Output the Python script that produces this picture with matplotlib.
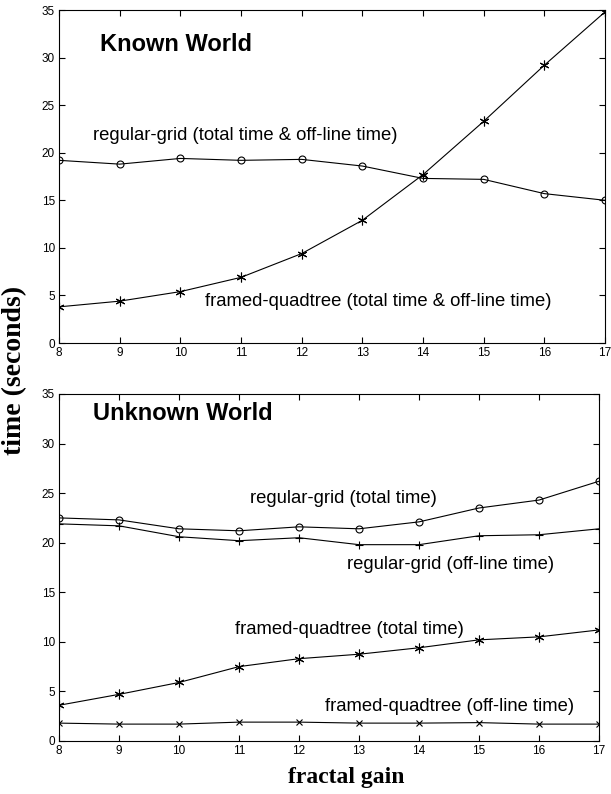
#!/usr/bin/env python3

import matplotlib
matplotlib.use('Agg')
import matplotlib.pyplot as plt


# Data. Fractal gain on x, time in seconds on y.
gain = [8, 9, 10, 11, 12, 13, 14, 15, 16, 17]

known_grid = [19.2, 18.8, 19.4, 19.2, 19.3, 18.6, 17.3, 17.2, 15.7, 15.0]
known_quad = [3.8, 4.4, 5.4, 6.9, 9.4, 12.9, 17.7, 23.3, 29.2, 34.8]

unknown_grid_total = [22.5, 22.3, 21.4, 21.2, 21.6, 21.4, 22.1, 23.5, 24.3, 26.2]
unknown_grid_offline = [21.9, 21.7, 20.6, 20.2, 20.5, 19.8, 19.8, 20.7, 20.8, 21.4]
unknown_quad_total = [3.6, 4.7, 5.9, 7.5, 8.3, 8.75, 9.4, 10.2, 10.5, 11.2]
unknown_quad_offline = [1.8, 1.7, 1.7, 1.9, 1.9, 1.8, 1.8, 1.85, 1.7, 1.7]

yticks = [0, 5, 10, 15, 20, 25, 30, 35]


plt.rcParams['font.family'] = ['Liberation Sans', 'DejaVu Sans']

fig = plt.figure(figsize=(6.11, 7.94), dpi=100)
ax1 = fig.add_axes((0.0966, 0.568, 0.8936, 0.4194))
ax2 = fig.add_axes((0.0966, 0.0668, 0.8838, 0.437))

line = dict(color='black', lw=0.8, markeredgewidth=0.8)
star = (6, 2, 0)  # asterisk made of strokes

# Known world.
ax1.plot(gain, known_grid, marker='o', mfc='none', ms=5, **line)
ax1.plot(gain, known_quad, marker=star, ms=7, **line)

# Unknown world.
ax2.plot(gain, unknown_grid_total, marker='o', mfc='none', ms=5, **line)
ax2.plot(gain, unknown_grid_offline, marker='+', ms=6, **line)
ax2.plot(gain, unknown_quad_total, marker=star, ms=7, **line)
ax2.plot(gain, unknown_quad_offline, marker='x', ms=4, **line)

for ax in (ax1, ax2):
    ax.set_xlim(8, 17)
    ax.set_ylim(0, 35)
    ax.set_xticks(gain)
    ax.set_yticks(yticks)
    ax.tick_params(direction='in', top=True, right=True, length=4,
                   width=0.8, labelsize=8.5, pad=3)
    for s in ax.spines.values():
        s.set_linewidth(0.8)

# Annotations.
fs = 13.3
ax1.text(8.68, 31.4, 'Known World', fontsize=17, fontweight='bold', va='center')
ax1.text(8.56, 21.8, 'regular-grid (total time & off-line time)',
         fontsize=fs, va='center')
ax1.text(10.41, 4.4, 'framed-quadtree (total time & off-line time)',
         fontsize=fs, va='center')

ax2.text(8.57, 33.0, 'Unknown World', fontsize=17, fontweight='bold', va='center')
ax2.text(11.18, 24.5, 'regular-grid (total time)', fontsize=fs, va='center')
ax2.text(12.8, 17.85, 'regular-grid (off-line time)', fontsize=fs, va='center')
ax2.text(10.93, 11.2, 'framed-quadtree (total time)', fontsize=fs, va='center')
ax2.text(12.43, 3.43, 'framed-quadtree (off-line time)', fontsize=fs,
         va='center')

# Axis labels, shared.
serif = ['Liberation Serif', 'DejaVu Serif']
fig.text(15 / 611, 1 - 370 / 794, 'time (seconds)', rotation=90,
         ha='center', va='center', fontsize=20, fontweight='bold', family=serif)
fig.text(346 / 611, 1 - 778 / 794, 'fractal gain', ha='center', va='center',
         fontsize=17, fontweight='bold', family=serif)

fig.savefig('out.png', dpi=100)
